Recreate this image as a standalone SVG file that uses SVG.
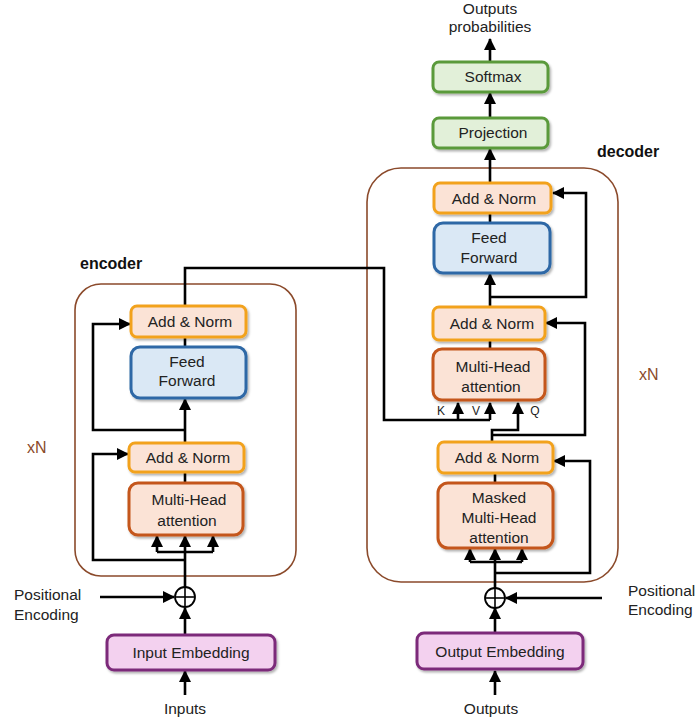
<svg xmlns="http://www.w3.org/2000/svg" width="700" height="724" viewBox="0 0 700 724">
<defs>
<marker id="ah" viewBox="0 0 12 12" refX="11" refY="6" markerWidth="12" markerHeight="12" markerUnits="userSpaceOnUse" orient="auto"><path d="M0,0 L12,6 L0,12 Z" fill="#000"/></marker>
<filter id="sh" x="-10%" y="-10%" width="125%" height="130%"><feDropShadow dx="1.5" dy="2" stdDeviation="1.2" flood-color="#000" flood-opacity="0.3"/></filter>
<style>
text{font-family:"Liberation Sans",Arial,sans-serif;font-size:15.5px;fill:#222;text-anchor:middle}
.lbl{text-anchor:start}
.bold{font-weight:bold;font-size:16px;fill:#111}
.xn{fill:#8B4A2B;font-size:16px}
.small{font-size:12px}
.outer{fill:none;stroke:#8B4A2B;stroke-width:1.6}
.an{fill:#FBE3D6;stroke:#F2A21E;stroke-width:3;filter:url(#sh)}
.ff{fill:#DAE8F5;stroke:#2E68A6;stroke-width:3;filter:url(#sh)}
.mh{fill:#FBE3D6;stroke:#C4561A;stroke-width:3;filter:url(#sh)}
.gr{fill:#E2F0D9;stroke:#5A9A3A;stroke-width:3;filter:url(#sh)}
.em{fill:#F3D1EF;stroke:#7C2A7A;stroke-width:3;filter:url(#sh)}
.c{fill:none;stroke:#000;stroke-width:2.6}
.a{marker-end:url(#ah)}
.circ{fill:#fff;stroke:#000;stroke-width:1.8}
</style>
</defs>

<!-- containers -->
<g id="encoder">
<rect class="outer" x="75" y="284" width="221" height="292" rx="26"/>
<text class="bold lbl" x="80" y="269">encoder</text>
<text class="xn lbl" x="27" y="453">xN</text>
</g>
<g id="decoder">
<rect class="outer" x="367" y="168" width="251" height="414" rx="34"/>
<text class="bold lbl" x="597" y="157">decoder</text>
<text class="xn lbl" x="639" y="380">xN</text>
</g>

<!-- connectors -->
<g id="connectors">
<!-- encoder -->
<line class="c a" x1="185" y1="695" x2="185" y2="671"/>
<line class="c a" x1="185" y1="634" x2="185" y2="608"/>
<line class="c a" x1="100" y1="597" x2="174" y2="597"/>
<line class="c" x1="185" y1="587" x2="185" y2="552"/>
<polyline class="c" points="157,552 213,552"/>
<line class="c a" x1="157" y1="552" x2="157" y2="536"/>
<line class="c a" x1="185" y1="552" x2="185" y2="536"/>
<line class="c a" x1="213" y1="552" x2="213" y2="536"/>
<polyline class="c a" points="185,560 93,560 93,454 128,454"/>
<line class="c" x1="185" y1="483" x2="185" y2="472"/>
<line class="c a" x1="185" y1="443" x2="185" y2="399"/>
<polyline class="c a" points="185,430 93,430 93,324 130,324"/>
<line class="c" x1="185" y1="347" x2="185" y2="337"/>
<polyline class="c" points="185,306 185,268 384,268 384,420 490,420"/>
<line class="c a" x1="458" y1="420" x2="458" y2="403"/>
<line class="c a" x1="490" y1="420" x2="490" y2="403"/>
<!-- decoder -->
<line class="c a" x1="495" y1="695" x2="495" y2="671"/>
<line class="c a" x1="495" y1="632" x2="495" y2="608"/>
<line class="c a" x1="602" y1="598" x2="506" y2="598"/>
<line class="c" x1="495" y1="588" x2="495" y2="562"/>
<polyline class="c" points="470,562 522,562"/>
<line class="c a" x1="470" y1="562" x2="470" y2="549"/>
<line class="c a" x1="495" y1="562" x2="495" y2="549"/>
<line class="c a" x1="522" y1="562" x2="522" y2="549"/>
<polyline class="c a" points="495,573 590,573 590,461 554,461"/>
<line class="c" x1="495" y1="483" x2="495" y2="473"/>
<polyline class="c a" points="492,442 492,430 518,430 518,403"/>
<polyline class="c a" points="492,435 585,435 585,323 546,323"/>
<line class="c" x1="490" y1="349" x2="490" y2="340"/>
<line class="c a" x1="490" y1="307" x2="490" y2="274"/>
<polyline class="c a" points="490,297 586,297 586,193 553,193"/>
<line class="c" x1="490" y1="223" x2="490" y2="213"/>
<line class="c a" x1="490" y1="183" x2="490" y2="149"/>
<line class="c a" x1="490" y1="118" x2="490" y2="93"/>
<line class="c a" x1="490" y1="62" x2="490" y2="39"/>
</g>

<!-- encoder nodes -->
<g id="enc-addnorm2"><rect class="an" x="131" y="306" width="115" height="31" rx="6"/><text x="190" y="327">Add &amp; Norm</text></g>
<g id="enc-ff"><rect class="ff" x="131" y="347" width="115" height="51" rx="9"/><text x="187" y="367">Feed</text><text x="187" y="386">Forward</text></g>
<g id="enc-addnorm1"><rect class="an" x="129" y="443" width="115" height="29" rx="6"/><text x="188" y="463">Add &amp; Norm</text></g>
<g id="enc-mha"><rect class="mh" x="129" y="483" width="114" height="52" rx="9"/><text x="189" y="505">Multi-Head</text><text x="187" y="526">attention</text></g>
<g id="enc-pe"><circle class="circ" cx="185" cy="597" r="10"/><line x1="175" y1="597" x2="195" y2="597" stroke="#000" stroke-width="1.6"/><line x1="185" y1="587" x2="185" y2="607" stroke="#000" stroke-width="1.6"/><text class="lbl" x="14" y="600">Positional</text><text class="lbl" x="14" y="620">Encoding</text></g>
<g id="enc-emb"><rect class="em" x="107" y="635" width="168" height="35" rx="7"/><text x="191" y="658">Input Embedding</text></g>
<g id="inputs"><text x="185" y="714">Inputs</text></g>

<!-- decoder nodes -->
<g id="dec-addnorm3"><rect class="an" x="434" y="183" width="117" height="30" rx="6"/><text x="494" y="204">Add &amp; Norm</text></g>
<g id="dec-ff"><rect class="ff" x="434" y="223" width="116" height="50" rx="9"/><text x="489" y="243">Feed</text><text x="489" y="263">Forward</text></g>
<g id="dec-addnorm2"><rect class="an" x="433" y="307" width="112" height="33" rx="6"/><text x="492" y="329">Add &amp; Norm</text></g>
<g id="dec-mha"><rect class="mh" x="433" y="349" width="112" height="51" rx="9"/><text x="493" y="372">Multi-Head</text><text x="491" y="392">attention</text></g>
<g id="kvq"><text class="small" x="441" y="415">K</text><text class="small" x="476" y="415">V</text><text class="small" x="535" y="415">Q</text></g>
<g id="dec-addnorm1"><rect class="an" x="438" y="442" width="115" height="31" rx="6"/><text x="497" y="463">Add &amp; Norm</text></g>
<g id="dec-mmha"><rect class="mh" x="438" y="483" width="115" height="65" rx="10"/><text x="499" y="503">Masked</text><text x="499" y="523">Multi-Head</text><text x="499" y="543">attention</text></g>
<g id="dec-pe"><circle class="circ" cx="495" cy="598" r="10"/><line x1="485" y1="598" x2="505" y2="598" stroke="#000" stroke-width="1.6"/><line x1="495" y1="588" x2="495" y2="608" stroke="#000" stroke-width="1.6"/><text class="lbl" x="628" y="596">Positional</text><text class="lbl" x="628" y="615">Encoding</text></g>
<g id="dec-emb"><rect class="em" x="417" y="633" width="166" height="36" rx="7"/><text x="500" y="657">Output Embedding</text></g>
<g id="outputs"><text x="491" y="714">Outputs</text></g>

<g id="projection"><rect class="gr" x="433" y="118" width="115" height="30" rx="6"/><text x="493" y="138">Projection</text></g>
<g id="softmax"><rect class="gr" x="433" y="62" width="115" height="30" rx="6"/><text x="493" y="82">Softmax</text></g>
<g id="probs"><text x="490" y="14">Outputs</text><text x="490" y="32">probabilities</text></g>
</svg>
